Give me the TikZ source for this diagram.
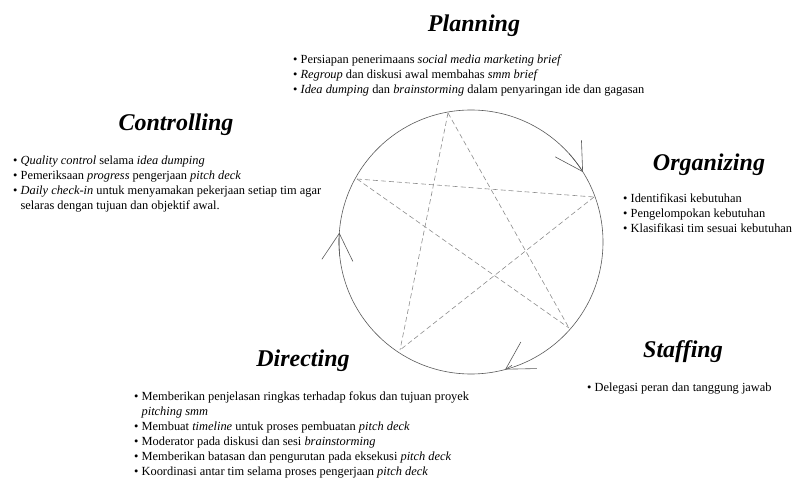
\documentclass[tikz,border=0pt]{standalone}
\usepackage{fontspec}
\setmainfont{Liberation Serif}
\usetikzlibrary{arrows.meta}
\newcommand{\itm}{\textbullet\ }
\newcommand{\cont}{\phantom{\textbullet}\ }

\begin{document}
\begin{tikzpicture}[
    x=1pt, y=1pt,
    head/.style={font=\fontsize{24}{28}\selectfont\bfseries\itshape, anchor=base, inner sep=0pt},
    items/.style={font=\fontsize{12.4}{15}\selectfont, align=left, anchor=north west, inner sep=0pt},
    ring/.style={draw=black!65, line width=0.6pt},
    starline/.style={draw=black!45, dash pattern=on 5pt off 3pt, line width=0.6pt},
    barb/.style={ring, -{Straight Barb[length=27pt, width=31pt]}}
]
\useasboundingbox (0,0) rectangle (793,477);

% cycle with star
\coordinate (c) at (471,235);
\coordinate (pTop) at (448,364);
\coordinate (pRight) at (594,280);
\coordinate (pLowR) at (569,149);
\coordinate (pLowL) at (400,127);
\coordinate (pLeft) at (357,298);
\draw[ring] (c) circle[radius=132];
\foreach \a/\b in {pTop/pLowL, pTop/pLowR, pLeft/pRight, pLeft/pLowR, pRight/pLowL}
  \draw[starline] (\a) -- (\b);
\foreach \s/\e in {42/32, 186/176}
  \draw[barb] (c) ++(\s:132) arc[start angle=\s, end angle=\e, radius=132];
\path (c) ++(-75:132) coordinate (tipB);
\draw[barb] (tipB) ++(31:8) -- (tipB);

% functions
\node[head] (planT) at (474,445) {Planning};
\node[items] (planL) at (293,422) {\itm Persiapan penerimaans \textit{social media marketing brief}\\
  \itm \textit{Regroup} dan diskusi awal membahas \textit{smm brief}\\
  \itm \textit{Idea dumping} dan \textit{brainstorming} dalam penyaringan ide dan gagasan};

\node[head] (orgT) at (709,306) {Organizing};
\node[items] (orgL) at (623,283.5) {\itm Identifikasi kebutuhan\\
  \itm Pengelompokan kebutuhan\\
  \itm Klasifikasi tim sesuai kebutuhan};

\node[head] (staffT) at (683,119) {Staffing};
\node[items] (staffL) at (587,94.5) {\itm Delegasi peran dan tanggung jawab};

\node[head] (dirT) at (303,110) {Directing};
\node[items] (dirL) at (134,85.5) {\itm Memberikan penjelasan ringkas terhadap fokus dan tujuan proyek\\
  \cont\textit{pitching smm}\\
  \itm Membuat \textit{timeline} untuk proses pembuatan \textit{pitch deck}\\
  \itm Moderator pada diskusi dan sesi \textit{brainstorming}\\
  \itm Memberikan batasan dan pengurutan pada eksekusi \textit{pitch deck}\\
  \itm Koordinasi antar tim selama proses pengerjaan \textit{pitch deck}};

\node[head] (ctrlT) at (176,346) {Controlling};
\node[items] (ctrlL) at (13,321.5) {\itm \textit{Quality control} selama \textit{idea dumping}\\
  \itm Pemeriksaan \textit{progress} pengerjaan \textit{pitch deck}\\
  \itm \textit{Daily check-in} untuk menyamakan pekerjaan setiap tim agar\\
  \cont selaras dengan tujuan dan objektif awal.};
\end{tikzpicture}
\end{document}
